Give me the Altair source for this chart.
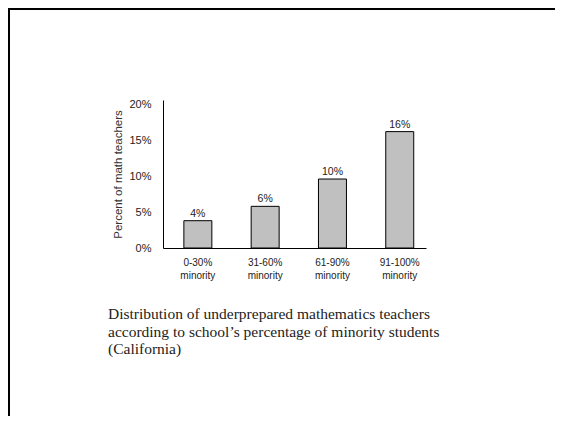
import altair as alt
import pandas as pd

categories = ["0-30% minority", "31-60% minority", "61-90% minority", "91-100% minority"]
values = [3.8, 5.8, 9.6, 16.2]
bar_labels = ["4%", "6%", "10%", "16%"]
y_ticks = [0, 5, 10, 15, 20]
caption = ("Distribution of underprepared mathematics teachers\n"
           "according to school\u2019s percentage of minority students\n"
           "(California)")

df = pd.DataFrame({"cat": categories, "val": values, "lab": bar_labels})
one = pd.DataFrame({"k": [0]})

x_enc = alt.X("cat:N", sort=categories, title=None,
              scale=alt.Scale(paddingInner=0.584, paddingOuter=0.246, align=0.63),
              axis=alt.Axis(labelExpr="split(datum.label, ' ')", labelAngle=0,
                            labelFont="Liberation Sans", labelFontSize=10,
                            labelColor="#222", labelLineHeight=13, labelPadding=9,
                            ticks=False, domainColor="black", domainWidth=1,
                            grid=False))
y_enc = alt.Y("val:Q", title="Percent of math teachers",
              scale=alt.Scale(domain=[0, 20.6], nice=False, zero=True),
              axis=alt.Axis(values=y_ticks, labelExpr="datum.value + '%'",
                            labelOverlap=False,
                            labelFont="Liberation Sans", labelFontSize=11,
                            labelColor="#222", labelPadding=12, ticks=False,
                            domainColor="black", domainWidth=1, grid=False,
                            titleFont="Liberation Sans", titleFontSize=11.5,
                            titleFontWeight="normal", titleColor="#333",
                            titlePadding=5))

bars = alt.Chart(df).mark_bar(color="#c0c0c0", stroke="black", strokeWidth=1).encode(
    x=x_enc, y=y_enc)

texts = alt.Chart(df).mark_text(font="Liberation Sans", fontSize=10.5, color="#222",
                                baseline="alphabetic", dy=-4).encode(
    x=x_enc, y=y_enc, text="lab:N")

cap = alt.Chart(one).mark_text(font="Liberation Serif", fontSize=15.5, color="#222",
                               align="left", baseline="alphabetic",
                               lineBreak="\n", lineHeight=17.5).encode(
    x=alt.value(-55), y=alt.value(219), text=alt.value(caption))

left_border = alt.Chart(one).mark_rule(color="black", strokeWidth=2).encode(
    x=alt.value(-154), y=alt.value(-92), y2=alt.value(316))
top_border = alt.Chart(one).mark_rule(color="black", strokeWidth=2).encode(
    x=alt.value(-155), x2=alt.value(392), y=alt.value(-91))

chart = alt.layer(bars, texts, cap, left_border, top_border).properties(
    width=263, height=148,
    background="white",
    autosize=alt.AutoSizeParams(type="none"),
    padding={"left": 155, "top": 92, "right": 129, "bottom": 168},
).configure_view(stroke=None).configure_axis(
    labelOverlap=False, titleFontWeight="normal")

chart.save("out.html", embed_options={"renderer": "svg", "actions": False})
